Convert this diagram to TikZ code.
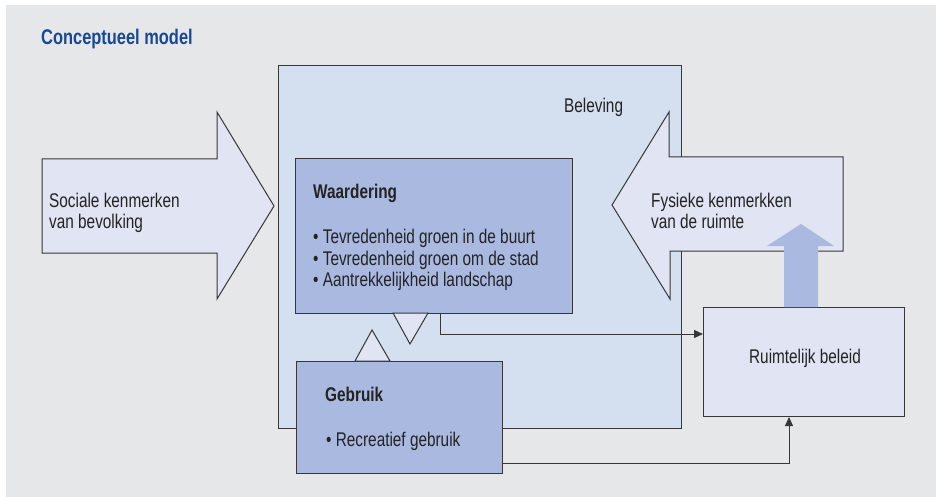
\documentclass[tikz,border=0pt]{standalone}
\usepackage{fontspec}
\setmainfont{Liberation Sans}[FakeStretch=0.775]
\usetikzlibrary{arrows.meta}
\definecolor{bggray}{RGB}{230,231,233}
\definecolor{belevfill}{RGB}{212,223,240}
\definecolor{boxfill}{RGB}{170,185,223}
\definecolor{lightfill}{RGB}{224,228,243}
\definecolor{titleblue}{RGB}{21,72,150}
\definecolor{linecol}{RGB}{55,55,55}
\definecolor{txtcol}{RGB}{35,35,35}
\tikzset{
  outline/.style={draw=linecol, line width=1pt},
  rbox/.style={outline, rectangle, anchor=north west, inner sep=0pt},
  txt/.style={anchor=base west, inner sep=0pt, text=txtcol, font=\fontsize{19.8}{21.5}\selectfont},
  conn/.style={draw=linecol, line width=1pt, -{Triangle[length=9pt,width=8pt]}},
}
\begin{document}
\begin{tikzpicture}[x=1pt,y=-1pt]
\useasboundingbox (0,0) rectangle (936,497);
\fill[bggray] (6,5) rectangle (936,497);

\node[anchor=base west, inner sep=0pt, text=titleblue, font=\fontsize{21.2}{24}\selectfont\bfseries] (title) at (41,45) {Conceptueel model};

% Sociale kenmerken arrow
\draw[outline, fill=lightfill] (42,159) -- (217,159) -- (217,112) -- (274,206) -- (217,299) -- (217,253) -- (42,253) -- cycle;
\node[txt] (soc1) at (49,207) {Sociale kenmerken};
\node[txt] (soc2) at (49,228) {van bevolking};

% Beleving box
\node[rbox, fill=belevfill, minimum width=403pt, minimum height=363pt] (belev) at (278,65) {};
\node[txt] (belevt) at (564,113) {Beleving};

% Fysieke kenmerken arrow
\draw[outline, fill=lightfill] (843,157) -- (669,157) -- (669,112) -- (612,205) -- (670,299) -- (670,251) -- (843,251) -- cycle;
\node[txt] (fys1) at (651,207) {Fysieke kenmerkken};
\node[txt] (fys2) at (651,228) {van de ruimte};

% Waardering
\node[rbox, fill=boxfill, minimum width=277pt, minimum height=155pt] (waard) at (295,158) {};
\node[txt, font=\fontsize{19.8}{21.5}\selectfont\bfseries] (waardt) at (313,198) {Waardering};
\node[txt] (w1) at (313,243) {• Tevredenheid groen in de buurt};
\node[txt] (w2) at (313,265) {• Tevredenheid groen om de stad};
\node[txt] (w3) at (313,286) {• Aantrekkelijkheid landschap};

% Gebruik
\node[rbox, fill=boxfill, minimum width=206pt, minimum height=112pt] (gebr) at (296,361) {};
\node[txt, font=\fontsize{19.8}{21.5}\selectfont\bfseries] (gebrt) at (325,401) {Gebruik};
\node[txt] (g1) at (326,446) {• Recreatief gebruik};

% triangles
\draw[outline, fill=lightfill] (393,313) -- (428,313) -- (410,344) -- cycle;
\draw[outline, fill=lightfill] (355,361) -- (390,361) -- (372,330) -- cycle;

% Ruimtelijk beleid
\node[rbox, fill=lightfill, minimum width=201pt, minimum height=109pt] (ruim) at (703,307) {};
\node[anchor=base, inner sep=0pt, text=txtcol, font=\fontsize{19.8}{21.5}\selectfont] (ruimt) at (805,363) {Ruimtelijk beleid};

% connectors
\draw[conn] ([xshift=145pt]waard.south west) |- ([yshift=-27pt]ruim.north west);
\draw[conn] ([yshift=11pt]gebr.south east) -| ([xshift=86pt]ruim.south west);

% blue arrow
\fill[boxfill] (784,307) -- (784,246) -- (767,246) -- (801,224) -- (834,246) -- (818,246) -- (818,307) -- cycle;
\end{tikzpicture}
\end{document}
